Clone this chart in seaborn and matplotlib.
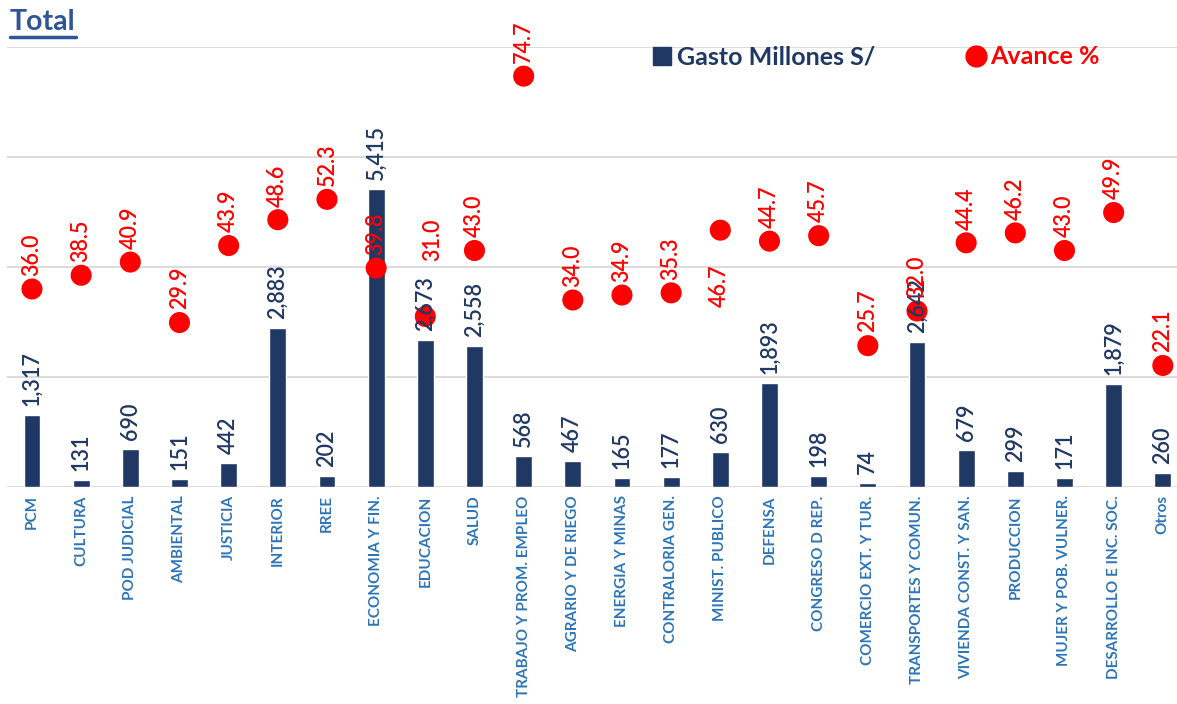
"""Gasto y avance por sector - Total"""

# Importa librerías

import numpy as np
import seaborn as sns
import matplotlib.pyplot as plt
from matplotlib.lines import Line2D

# Datos

sectores = ["PCM", "CULTURA", "POD JUDICIAL", "AMBIENTAL", "JUSTICIA", "INTERIOR",
            "RREE", "ECONOMIA Y FIN.", "EDUCACION", "SALUD", "TRABAJO Y PROM. EMPLEO",
            "AGRARIO Y DE RIEGO", "ENERGIA Y MINAS", "CONTRALORIA GEN.", "MINIST. PUBLICO",
            "DEFENSA", "CONGRESO D REP.", "COMERCIO EXT. Y TUR.", "TRANSPORTES Y COMUN.",
            "VIVIENDA CONST. Y SAN.", "PRODUCCION", "MUJER Y POB. VULNER.",
            "DESARROLLO E INC. SOC.", "Otros"]
gasto = [1317, 131, 690, 151, 442, 2883, 202, 5415, 2673, 2558, 568, 467, 165, 177,
         630, 1893, 198, 74, 2642, 679, 299, 171, 1879, 260]
avance = [36.0, 38.5, 40.9, 29.9, 43.9, 48.6, 52.3, 39.8, 31.0, 43.0, 74.7, 34.0, 34.9,
          35.3, 46.7, 44.7, 45.7, 25.7, 32.0, 44.4, 46.2, 43.0, 49.9, 22.1]

# Etiquetas de avance movidas a mano (x, y en puntos)
desplazadas = {"EDUCACION": (5, 40), "MINIST. PUBLICO": (-1, -25)}

AZUL = "#203864"
ROJO = "#FF0000"
AZUL_EJE = "#2E75B6"

sns.set_style("white")
plt.rcParams['font.family'] = ['Lato', 'DejaVu Sans']

# Grafica la figura

fig = plt.figure(figsize=(11.77, 7.04), dpi=100)
ax = fig.add_axes([7.4 / 1177, 217 / 704, 1180 / 1177, 440 / 704])

sns.barplot(x=sectores, y=gasto, color=AZUL, saturation=1, width=0.34, ax=ax)
ax.set_ylim(0, 8000)
ax.set_yticks([0, 2000, 4000, 6000, 8000])
ax.set_yticklabels([])
ax.grid(axis='y', color='#D9D9D9', lw=1.3)
ax.set_axisbelow(True)
ax.tick_params(axis='y', left=False, length=0)
ax.tick_params(axis='x', bottom=False, length=0, pad=6)
ax.set_xticks(range(len(sectores)))
ax.set_xticklabels(sectores, rotation=90, color=AZUL_EJE, fontsize=11,
                   fontweight='bold', va='top')
ax.set_xlabel("")
ax.set_ylabel("")
sns.despine(ax=ax, left=True, bottom=True)

ax2 = ax.twinx()
sns.scatterplot(x=np.arange(len(sectores)), y=avance, color=ROJO, s=230,
                edgecolor='none', ax=ax2, zorder=3)
ax2.set_ylim(0, 80)
ax2.set_xlim(-0.5, len(sectores) - 0.5)
ax2.set_yticks([])
ax2.tick_params(length=0)
ax2.set_ylabel("")
sns.despine(ax=ax2, left=True, bottom=True, right=True)

# Etiquetas de datos

for i, (s, g, a) in enumerate(zip(sectores, gasto, avance)):
    ax2.annotate(f"{g:,}", (i, g), xycoords=ax.transData, xytext=(0, 6.5),
                 textcoords='offset points', rotation=90, ha='center', va='bottom',
                 color=AZUL, fontsize=15.5, fontweight='semibold', zorder=5)
    dx, dy = desplazadas.get(s, (0, 9.5))
    ax2.annotate(f"{a:.1f}", (i, a), xytext=(dx, dy), textcoords='offset points',
                 rotation=90, ha='center', va='bottom' if dy > 0 else 'top',
                 color=ROJO, fontsize=15.5, fontweight='semibold', zorder=5)

# Leyenda

handles = [Line2D([], [], marker='s', ls='', color=AZUL, markersize=13),
           Line2D([], [], marker='o', ls='', color=ROJO, markersize=15)]
leg = fig.legend(handles, ["Gasto Millones S/", "Avance %"], loc='center left',
                 bbox_to_anchor=(631 / 1177, 1 - 57 / 704), ncol=2, frameon=False,
                 handlelength=0.7, handletextpad=0.25, columnspacing=3.65,
                 prop={'size': 18, 'weight': 'bold'})
leg.get_texts()[0].set_color(AZUL)
leg.get_texts()[1].set_color(ROJO)

# Titulo "Total" subrayado

t = fig.text(10 / 1177, 1 - 22 / 704, "Total", fontsize=20.5, fontweight='bold',
             color='#2F5597', va='center')
fig.canvas.draw()
bb = t.get_window_extent().transformed(fig.transFigure.inverted())
fig.add_artist(Line2D([bb.x0, bb.x1], [bb.y0 - 0.003, bb.y0 - 0.003],
                      transform=fig.transFigure, color='#2F5597', lw=2.5))

plt.savefig('out.png', dpi=100)
